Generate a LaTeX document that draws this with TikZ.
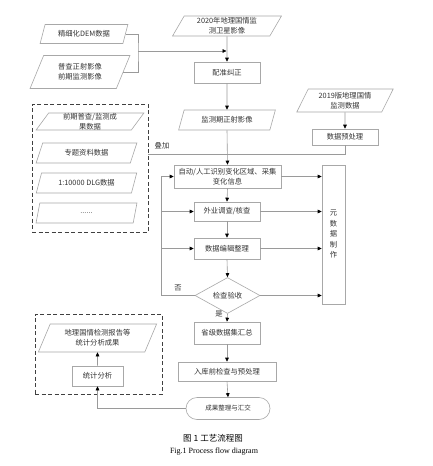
\documentclass[tikz,border=0pt]{standalone}
\usepackage{fontspec}
\setmainfont{Liberation Serif}
\newfontfamily\cjk{Noto Sans CJK SC}
\usetikzlibrary{shapes.geometric,arrows.meta}
\definecolor{boxgray}{HTML}{A8A8A8}
\definecolor{linegray}{HTML}{9A9A9A}
\definecolor{txt}{HTML}{333333}
\begin{document}
\begin{tikzpicture}[x=1pt,y=-1pt,
  base/.style={draw=boxgray, line width=0.6pt, text=txt, align=center, inner sep=0pt,
    font=\cjk\fontsize{7.3}{10}\selectfont},
  rbox/.style={base, rectangle},
  para/.style={base, trapezium, trapezium left angle=64, trapezium right angle=116, trapezium stretches=true},
  dia/.style={base, diamond},
  term/.style={base, rectangle, rounded corners=11pt},
  dbox/.style={draw=black!75, dashed, dash pattern=on 4pt off 2.5pt, line width=0.8pt, rectangle, inner sep=0pt},
  ln/.style={draw=linegray, line width=0.6pt},
  arr/.style={ln, -{Triangle[length=4pt,width=3.6pt,color=black]}},
  lbl/.style={text=txt, font=\cjk\fontsize{7.3}{10}\selectfont, inner sep=0pt}
]
\path[use as bounding box, fill=white] (0,0) rectangle (432,466);

% dashed boxes
\node[dbox, minimum width=116pt, minimum height=128pt] (db1) at (90,168) {};
\node[dbox, minimum width=127pt, minimum height=80pt] (db2) at (98.5,354) {};

% left inputs
\node[para, minimum width=88pt, minimum height=19pt] (dem) at (84,34) {精细化DEM数据};
\node[para, minimum width=100pt, minimum height=33pt] (pucha) at (80,72) {普查正射影像\\前期监测影像};

\node[para, minimum width=108pt, minimum height=17pt] (qianqi) at (90,121.5) {前期普查/监测成\\果数据};
\node[para, minimum width=101pt, minimum height=20pt] (zhuanti) at (86.5,153) {专题资料数据};
\node[para, minimum width=101pt, minimum height=20pt] (dlg) at (86.5,183) {1:10000 DLG数据};
\node[para, minimum width=101pt, minimum height=20pt] (dots) at (86.5,213) {......};

% main column
\node[para, minimum width=109pt, minimum height=20pt] (s2020) at (227,26) {2020年地理国情监\\测卫星影像};
\node[rbox, minimum width=66pt, minimum height=21pt] (peizhun) at (227,72.5) {配准纠正};
\node[para, minimum width=97pt, minimum height=20pt] (jiance) at (227,120) {监测期正射影像};
\node[para, minimum width=97pt, minimum height=23pt] (s2019) at (345,100.5) {2019版地理国情\\监测数据};
\node[rbox, minimum width=66pt, minimum height=16pt] (yuchuli) at (345,137) {数据预处理};

\node[rbox, minimum width=107pt, minimum height=23pt] (zidong) at (227.5,176.5) {自动/人工识别变化区域、采集\\变化信息};
\node[rbox, minimum width=66pt, minimum height=19pt] (waiye) at (227,211.5) {外业调查/核查};
\node[rbox, minimum width=66pt, minimum height=21pt] (bianji) at (227,248.5) {数据编辑整理};
\node[dia, minimum width=65pt, minimum height=26pt] (jiancha) at (227.5,295.5) {检查验收};
\node[rbox, minimum width=23pt, minimum height=139pt, font=\cjk\fontsize{7.3}{10.5}\selectfont] (yuan) at (333.5,234.5) {元\\数\\据\\制\\作};

\node[rbox, minimum width=66pt, minimum height=22pt] (shengji) at (227,333) {省级数据集汇总};
\node[rbox, minimum width=98pt, minimum height=19pt] (ruku) at (227,371.5) {入库前检查与预处理};
\node[term, minimum width=84pt, minimum height=22pt, font=\cjk\fontsize{6.5}{8}\selectfont] (chengguo) at (228,408.5) {成果整理与汇交};

\node[para, minimum width=119pt, minimum height=28pt] (baogao) at (97.5,338) {地理国情检测报告等\\统计分析成果};
\node[rbox, minimum width=51pt, minimum height=20pt] (tongji) at (97.5,376) {统计分析};

% labels
\node[lbl] (diejia) at (162,146) {叠加};
\node[lbl] (fou) at (178,288) {否};
\node[lbl] (shi) at (219,313.5) {是};

% connectors
\coordinate (br) at (138,51);
\coordinate (m1) at (226.5,51);
\draw[ln] (dem.east) -| (br) |- (pucha.east);
\draw[arr] (br) -- (m1);
\draw[arr] (s2020.south) -- (peizhun.north);
\draw[arr] (peizhun.south) -- (jiance.north);
\draw[arr] (jiance.south) -- (zidong.north);
\draw[arr] (s2019.south) -- (yuchuli.north);
\coordinate (dj) at (148,154);
\draw[ln] (yuchuli.south) |- (dj);

\draw[arr] (zidong.south) -- (waiye.north);
\draw[arr] (waiye.south) -- (bianji.north);
\draw[arr] (bianji.south) -- (jiancha.north);
\draw[arr] (jiancha.south) -- (shengji.north);
\draw[arr] (shengji.south) -- (ruku.north);
\draw[arr] (ruku.south) -- (chengguo.north);

\draw[arr] (zidong.east) -- (yuan.west |- zidong.east);
\draw[arr] (waiye.east) -- (yuan.west |- waiye.east);
\draw[arr] (bianji.east) -- (yuan.west |- bianji.east);
\draw[arr] (jiancha.east) -- (yuan.west |- jiancha.east);

\coordinate (lp) at (161,295.5);
\draw[ln] (jiancha.west) -- (lp);
\draw[arr] (lp) |- (zidong.west);
\draw[arr] (lp |- waiye.west) -- (waiye.west);
\draw[arr] (lp |- bianji.west) -- (bianji.west);

\draw[arr] (chengguo.west) -| (tongji.south);
\draw[arr] (tongji.north) -- (baogao.south);

% caption
\node[inner sep=0pt, font=\cjk\fontsize{8.5}{10}\selectfont, text=black] (cap1) at (213,438) {图 1 工艺流程图};
\node[inner sep=0pt, font=\fontsize{8}{10}\selectfont, text=black] (cap2) at (214,452) {Fig.1 Process flow diagram};
\end{tikzpicture}
\end{document}
